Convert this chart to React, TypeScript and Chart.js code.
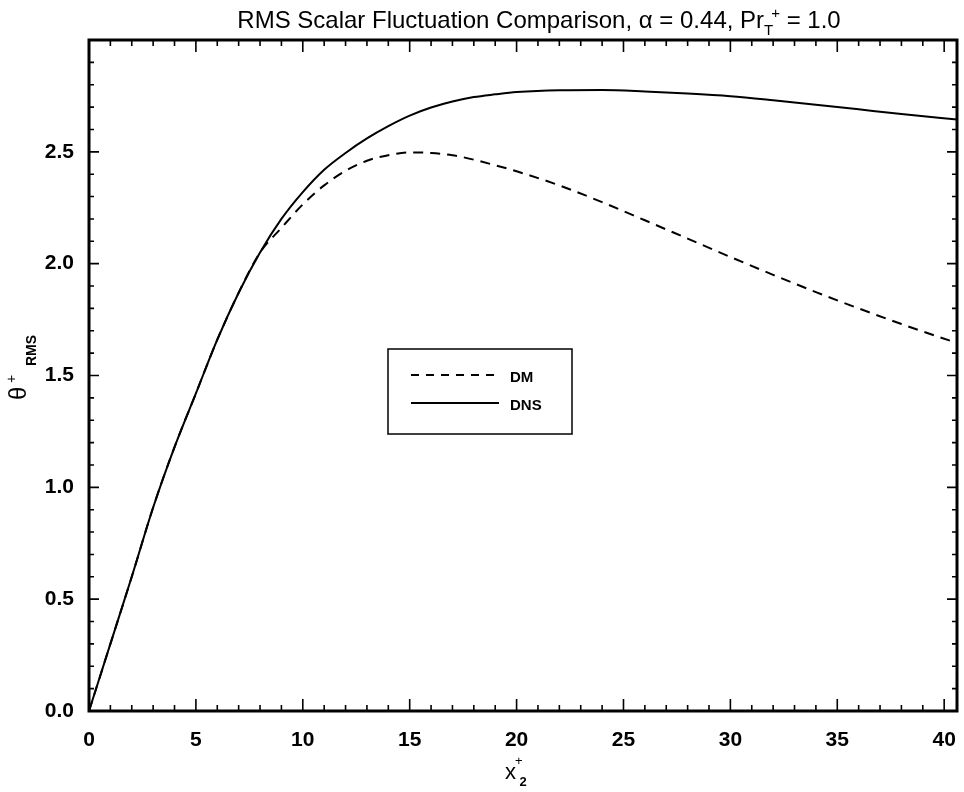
import React, { useEffect, useRef } from 'react';
import { Chart, registerables } from 'chart.js';

Chart.register(...registerables);

const xValues = [0, 0.5, 1, 2, 3, 4, 5, 6, 7, 8, 9, 10, 11, 12, 13, 14, 15, 16, 17, 18, 19, 20, 22, 24, 26, 28, 30, 32, 34, 36, 38, 40.6];
const dnsValues = [0, 0.15, 0.3, 0.6, 0.91, 1.18, 1.42, 1.66, 1.87, 2.05, 2.2, 2.32, 2.42, 2.495, 2.56, 2.615, 2.662, 2.698, 2.725, 2.745, 2.757, 2.767, 2.775, 2.776, 2.77, 2.761, 2.749, 2.731, 2.711, 2.69, 2.669, 2.645];
const dmValues = [0, 0.15, 0.3, 0.6, 0.91, 1.18, 1.42, 1.66, 1.87, 2.05, 2.16, 2.265, 2.35, 2.415, 2.46, 2.485, 2.497, 2.495, 2.485, 2.465, 2.44, 2.413, 2.35, 2.275, 2.194, 2.112, 2.03, 1.95, 1.873, 1.8, 1.73, 1.645];
const xTickValues = [0, 5, 10, 15, 20, 25, 30, 35, 40];
const yTickValues = [0, 0.5, 1.0, 1.5, 2.0, 2.5];
const seriesLabels = ['DM', 'DNS'];

const FONT = '"Liberation Sans", Arial, Helvetica, sans-serif';

type Part = { t: string; f: string; dy?: number; dx?: number };

function drawRich(ctx: CanvasRenderingContext2D, parts: Part[], x: number, y: number, center: boolean) {
  let w = 0;
  parts.forEach((p) => {
    ctx.font = p.f;
    w += (p.dx || 0) + ctx.measureText(p.t).width;
  });
  let cx = center ? x - w / 2 : x;
  parts.forEach((p) => {
    ctx.font = p.f;
    cx += p.dx || 0;
    ctx.fillText(p.t, cx, y + (p.dy || 0));
    cx += ctx.measureText(p.t).width;
  });
}

const decorPlugin = {
  id: 'decor',
  afterDraw(chart: any) {
    const { ctx, chartArea: a, scales } = chart;
    const xs = scales.x;
    const ys = scales.y;
    ctx.save();
    ctx.strokeStyle = '#000';
    ctx.fillStyle = '#000';
    ctx.lineWidth = 1.6;
    ctx.setLineDash([]);
    for (let i = 0; i <= 40; i++) {
      const px = xs.getPixelForValue(i);
      const len = i % 5 === 0 ? 12 : 6;
      ctx.beginPath();
      ctx.moveTo(px, a.bottom);
      ctx.lineTo(px, a.bottom - len);
      ctx.moveTo(px, a.top);
      ctx.lineTo(px, a.top + len);
      ctx.stroke();
    }
    for (let i = 0; i <= 30; i++) {
      const py = ys.getPixelForValue(i / 10);
      const len = i % 5 === 0 ? 10 : 5;
      ctx.beginPath();
      ctx.moveTo(a.left, py);
      ctx.lineTo(a.left + len, py);
      ctx.moveTo(a.right, py);
      ctx.lineTo(a.right - len, py);
      ctx.stroke();
    }
    ctx.lineWidth = 3;
    ctx.strokeRect(a.left, a.top, a.right - a.left, a.bottom - a.top);

    // Title
    ctx.textBaseline = 'alphabetic';
    const big = `24px ${FONT}`;
    const small = `15px ${FONT}`;
    drawRich(
      ctx,
      [
        { t: 'RMS Scalar Fluctuation Comparison, \u03b1 = 0.44, Pr', f: big },
        { t: 'T', f: small, dy: 7 },
        { t: '+', f: small, dy: -10, dx: -2 },
        { t: ' = 1.0', f: big },
      ],
      539,
      28,
      true
    );

    // X title
    drawRich(
      ctx,
      [
        { t: 'x', f: `22px ${FONT}` },
        { t: '+', f: `13px ${FONT}`, dy: -14, dx: -1 },
        { t: '2', f: `bold 13px ${FONT}`, dy: 7, dx: -3 },
      ],
      505,
      779,
      false
    );

    // Y title (rotated)
    ctx.save();
    ctx.translate(26, 400);
    ctx.rotate(-Math.PI / 2);
    ctx.font = `24px ${FONT}`;
    ctx.fillText('\u03b8', 0, 0);
    ctx.font = `14px ${FONT}`;
    ctx.fillText('+', 17, -10);
    ctx.font = `bold 14px ${FONT}`;
    ctx.fillText('RMS', 34, 10);
    ctx.restore();

    // Legend
    ctx.lineWidth = 1.5;
    ctx.strokeRect(388, 349, 184, 85);
    ctx.lineWidth = 2;
    ctx.setLineDash([8, 7]);
    ctx.beginPath();
    ctx.moveTo(411, 375);
    ctx.lineTo(498, 375);
    ctx.stroke();
    ctx.setLineDash([]);
    ctx.beginPath();
    ctx.moveTo(411, 403);
    ctx.lineTo(499, 403);
    ctx.stroke();
    ctx.font = `bold 15px ${FONT}`;
    ctx.textBaseline = 'middle';
    ctx.fillText(seriesLabels[0], 510, 378);
    ctx.fillText(seriesLabels[1], 510, 406);
    ctx.restore();
  },
};

export default function App() {
  const ref = useRef<HTMLCanvasElement | null>(null);
  useEffect(() => {
    document.body.style.margin = '0';
    const canvas = ref.current;
    if (!canvas) return;
    const chart = new Chart(canvas, {
      type: 'line',
      data: {
        datasets: [
          {
            label: seriesLabels[0],
            data: xValues.map((x, i) => ({ x, y: dmValues[i] })),
            borderColor: '#000',
            borderWidth: 2,
            borderDash: [10, 7],
            pointRadius: 0,
            fill: false,
            cubicInterpolationMode: 'monotone',
          },
          {
            label: seriesLabels[1],
            data: xValues.map((x, i) => ({ x, y: dnsValues[i] })),
            borderColor: '#000',
            borderWidth: 2,
            pointRadius: 0,
            fill: false,
            cubicInterpolationMode: 'monotone',
          },
        ],
      },
      options: {
        animation: false,
        responsive: false,
        layout: { padding: { left: 0, right: 7, top: 40, bottom: 0 } },
        plugins: {
          legend: { display: false },
          title: { display: false },
          tooltip: { enabled: false },
        },
        scales: {
          x: {
            type: 'linear',
            min: 0,
            max: 40.6,
            grid: { display: false, drawTicks: false },
            border: { display: false },
            afterBuildTicks: (s: any) => {
              s.ticks = xTickValues.map((v) => ({ value: v }));
            },
            afterFit: (s: any) => {
              s.height = 81;
              s.paddingLeft = 0;
              s.paddingRight = 0;
            },
            ticks: {
              color: '#000',
              padding: 17,
              maxRotation: 0,
              font: { family: FONT, size: 21, weight: 'bold' },
              callback: (v: any) => String(v),
            },
          },
          y: {
            type: 'linear',
            min: 0,
            max: 3.0,
            grid: { display: false, drawTicks: false },
            border: { display: false },
            afterBuildTicks: (s: any) => {
              s.ticks = yTickValues.map((v) => ({ value: v }));
            },
            afterFit: (s: any) => {
              s.width = 89;
              s.paddingTop = 0;
              s.paddingBottom = 0;
            },
            ticks: {
              color: '#000',
              padding: 15,
              font: { family: FONT, size: 21, weight: 'bold' },
              callback: (v: any) => Number(v).toFixed(1),
            },
          },
        },
      },
      plugins: [decorPlugin],
    } as any);
    return () => chart.destroy();
  }, []);
  return (
    <div style={{ width: 964, height: 792, background: '#fff' }}>
      <canvas ref={ref} width={964} height={792} style={{ display: 'block' }} />
    </div>
  );
}
